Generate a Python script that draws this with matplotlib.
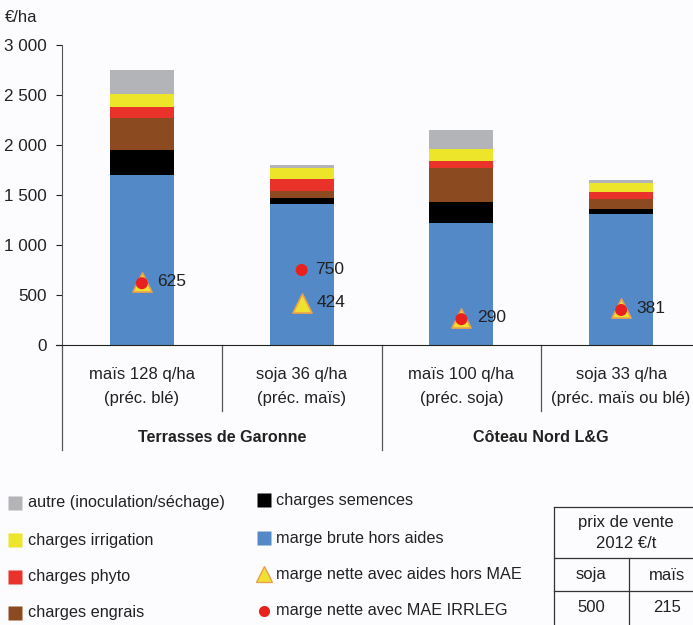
import matplotlib.pyplot as plt
from matplotlib.lines import Line2D
import numpy as np

plt.rcParams['font.family'] = ['Liberation Sans', 'DejaVu Sans']

# data (€/ha)
crops_l1 = ["maïs 128 q/ha", "soja 36 q/ha", "maïs 100 q/ha", "soja 33 q/ha"]
crops_l2 = ["(préc. blé)", "(préc. maïs)", "(préc. soja)", "(préc. maïs ou blé)"]
groups = ["Terrasses de Garonne", "Côteau Nord L&G"]
marge_brute = [1700, 1407, 1223, 1310]
semences = [250, 60, 210, 50]
engrais = [317, 76, 334, 100]
phyto = [110, 114, 76, 73]
irrigation = [130, 110, 114, 90]
autre = [243, 33, 193, 27]
marge_aides = [630, 425, 275, 367]
marge_mae = [618, 750, 258, 350]
labels_aides = ["625", "424", "290", "381"]
labels_mae = ["", "750", "", ""]
prix_cols = ["soja", "maïs"]
prix_vals = ["500", "215"]

stack = [
    ("marge brute hors aides", marge_brute, "#5389c6"),
    ("charges semences", semences, "#000000"),
    ("charges engrais", engrais, "#8b4a20"),
    ("charges phyto", phyto, "#e8322a"),
    ("charges irrigation", irrigation, "#ece52a"),
    ("autre (inoculation/séchage)", autre, "#b3b4b8"),
]

txt = "#222222"
bg = "#fcfcfe"
fig = plt.figure(figsize=(6.93, 6.25), dpi=100, facecolor=bg)
ax = fig.add_axes([62 / 693, 280 / 625, 639 / 693, 300 / 625])
ax.set_facecolor(bg)

x = np.arange(len(crops_l1))
bottom = np.zeros(len(x))
for name, vals, col in stack:
    ax.bar(x, vals, 0.4, bottom=bottom, color=col, edgecolor="none", zorder=2)
    bottom += np.array(vals)

ax.scatter(x, marge_aides, marker="^", s=190, color="#f0e030",
           edgecolor="#e8a050", linewidth=1.2, zorder=3)
ax.scatter(x, marge_mae, marker="o", s=75, color="#e8211f", edgecolor="none", zorder=4)
for i in range(len(x)):
    ax.annotate(labels_aides[i], (x[i], marge_aides[i]), xytext=(11, 0),
                textcoords="offset points", va="center", ha="left", fontsize=12.5, color=txt)
    if labels_mae[i]:
        ax.annotate(labels_mae[i], (x[i], marge_mae[i]), xytext=(10, 0),
                    textcoords="offset points", va="center", ha="left", fontsize=12.5, color=txt)

ax.set_xlim(-0.5, 3.5)
ax.set_ylim(0, 3000)
ax.set_yticks(range(0, 3001, 500))
ax.set_yticklabels([f"{v:,}".replace(",", " ") for v in range(0, 3001, 500)])
ax.tick_params(axis="y", length=4, width=0.8, pad=7, labelsize=12.3, colors=txt)
ax.tick_params(axis="x", length=0, labelbottom=False)
for s in ["top", "right"]:
    ax.spines[s].set_visible(False)
ax.spines["left"].set_color("#555555")
ax.spines["bottom"].set_color(txt)
ax.spines["bottom"].set_bounds(-0.54, 3.5)

# category axis with group separators
tr = ax.get_xaxis_transform()
for xs, y0 in [(-0.5, -0.35), (0.5, -0.22), (1.5, -0.35), (2.5, -0.22)]:
    ax.plot([xs, xs], [0, y0], transform=tr, color="#555555", lw=0.9, clip_on=False)
for i in range(len(x)):
    ax.text(x[i], -0.097, crops_l1[i], transform=tr, ha="center", va="center",
            fontsize=12, color=txt)
    ax.text(x[i], -0.18, crops_l2[i], transform=tr, ha="center", va="center",
            fontsize=12, color=txt)
for g, name in enumerate(groups):
    ax.text(2 * g + 0.5, -0.31, name, transform=tr, ha="center", va="center",
            fontsize=11.6, fontweight="bold", color=txt)

fig.text(5 / 693, 1 - 17 / 625, "€/ha", fontsize=12, va="center", ha="left", color=txt)

# legend
def fx(px):
    return px / 693

def fy(py):
    return 1 - py / 625

left_col = [("autre (inoculation/séchage)", "#b3b4b8", 503),
            ("charges irrigation", "#ece52a", 540),
            ("charges phyto", "#e8322a", 577),
            ("charges engrais", "#8b4a20", 613)]
for name, col, py in left_col:
    fig.add_artist(Line2D([fx(15)], [fy(py)], marker="s", ms=10.5, color=col, mec="none"))
    fig.text(fx(28), fy(py), name, fontsize=11.7, va="center", color=txt)

right_col = [("charges semences", "s", "#000000", None, 500),
             ("marge brute hors aides", "s", "#5389c6", None, 538),
             ("marge nette avec aides hors MAE", "^", "#f0e030", "#e8a050", 574),
             ("marge nette avec MAE IRRLEG", "o", "#e8211f", None, 611)]
for name, m, col, ec, py in right_col:
    ms = 10.5 if m == "s" else (12 if m == "^" else 8)
    fig.add_artist(Line2D([fx(264)], [fy(py)], marker=m, ms=ms, color=col,
                          mec=ec if ec else "none", mew=1.0))
    fig.text(fx(276), fy(py), name, fontsize=11.7, va="center", color=txt)

# price table
tl, tr_, tc = 554, 700, 629
lc = "#333333"
for seg in [([tl, tl], [507, 625]), ([tl, tr_], [507, 507]), ([tl, tr_], [558, 558]),
            ([tl, tr_], [591, 591]), ([tc, tc], [558, 625])]:
    fig.add_artist(Line2D([fx(v) for v in seg[0]], [fy(v) for v in seg[1]], color=lc, lw=0.9))
fig.text(fx(626), fy(523), "prix de vente", fontsize=12, ha="center", va="center", color=txt)
fig.text(fx(626), fy(543), "2012 €/t", fontsize=12, ha="center", va="center", color=txt)
for cx, col, val in zip([591, 667], prix_cols, prix_vals):
    fig.text(fx(cx), fy(575), col, fontsize=12, ha="center", va="center", color=txt)
    fig.text(fx(cx), fy(608), val, fontsize=12, ha="center", va="center", color=txt)

fig.savefig("out.png", dpi=100, facecolor=bg)
